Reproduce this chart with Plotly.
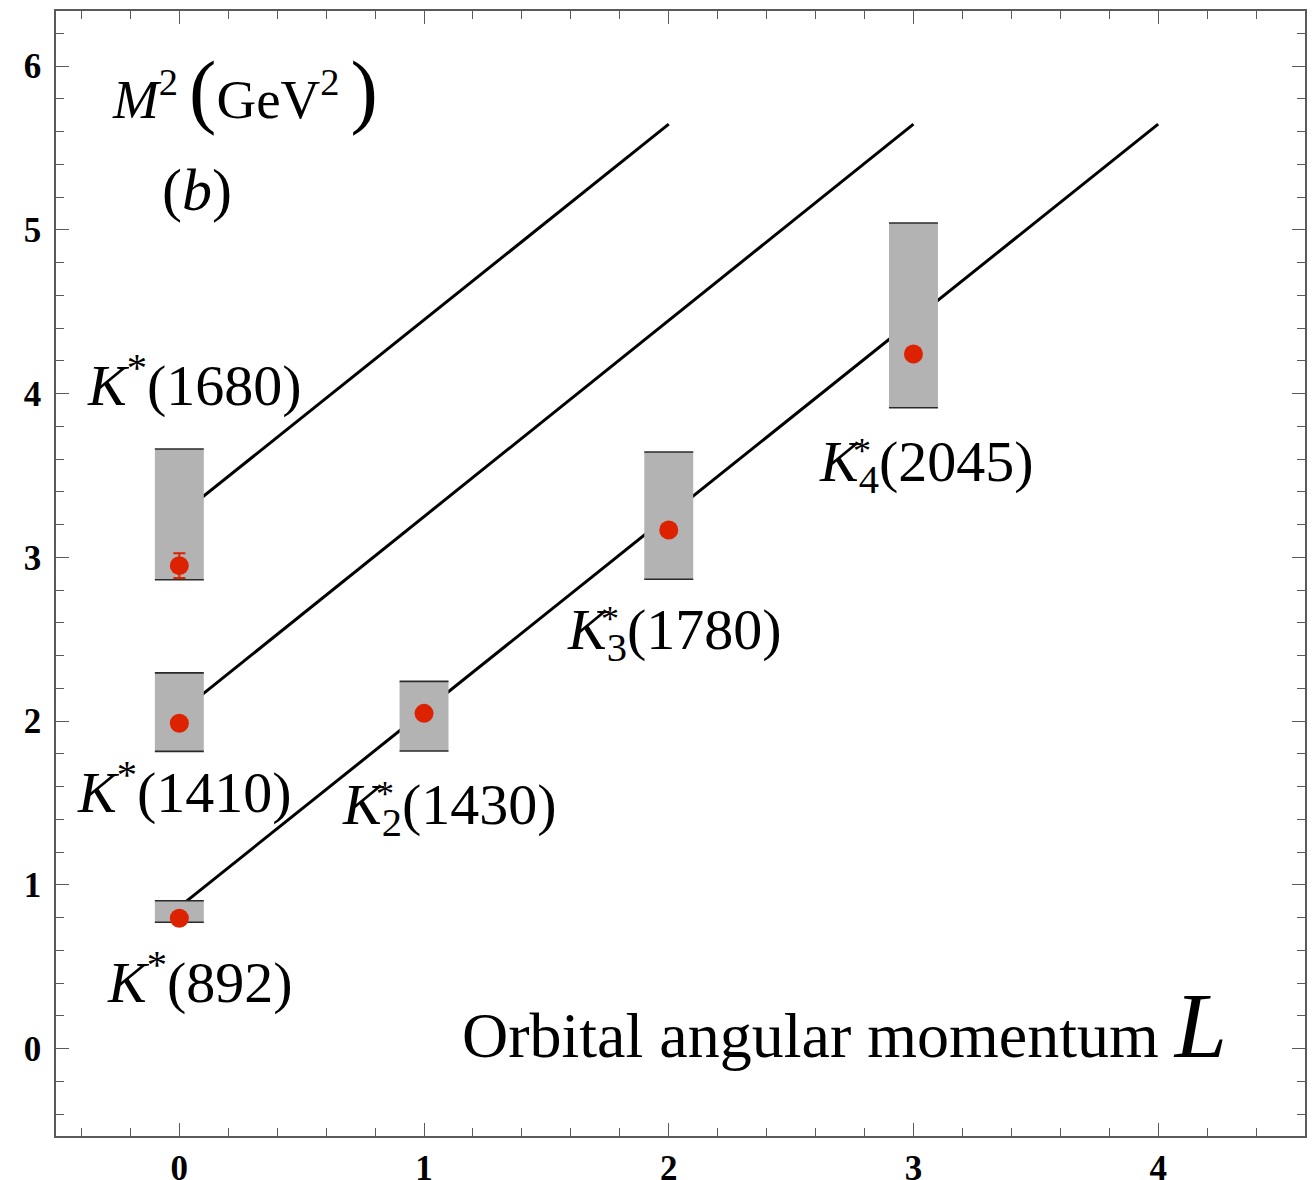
import plotly.graph_objects as go

# Regge trajectories of the K* family: M^2 (GeV^2) versus orbital angular momentum L
traj_L_start = [0, 0, 0]
traj_L_end = [4, 3, 2]
traj_m2_start = [0.865, 2.05, 3.255]
traj_m2_end = [5.645, 5.645, 5.645]

# Experimental states
state_names = ["K*(892)", "K*(1410)", "K*(1680)", "K2*(1430)", "K3*(1780)", "K4*(2045)"]
state_L = [0, 0, 0, 1, 2, 3]
state_m2 = [0.796, 1.986, 2.949, 2.047, 3.167, 4.241]
state_m2_err = [0.0, 0.0, 0.075, 0.0, 0.0, 0.0]
band_low = [0.771, 1.815, 2.863, 1.817, 2.866, 3.913]
band_high = [0.903, 2.294, 3.661, 2.242, 3.643, 5.041]
band_half_width = 0.1

label_texts = [
    "<i>K</i><sup>*</sup>(892)",
    "<i>K</i><sup>*</sup>(1410)",
    "<i>K</i><sup>*</sup>(1680)",
    "<i>K</i><sub>2</sub>(1430)",
    "<i>K</i><sub>3</sub>(1780)",
    "<i>K</i><sub>4</sub>(2045)",
]
# label anchor positions (left edge, vertical middle) and whether a stacked star is needed
label_pos = [(-0.302, 0.427), (-0.425, 1.587), (-0.384, 4.072),
             (0.658, 1.467), (1.577, 2.536), (2.606, 3.562)]
stacked_star = [False, False, False, True, True, True]

SERIF = "Liberation Serif"
LABEL_SIZE = 58
fig = go.Figure()

# trajectory lines
for xs, xe, ys, ye in zip(traj_L_start, traj_L_end, traj_m2_start, traj_m2_end):
    fig.add_trace(go.Scatter(x=[xs, xe], y=[ys, ye], mode="lines",
                             line=dict(color="black", width=3), hoverinfo="skip"))

# grey bands with dark top/bottom edges
for L, lo, hi in zip(state_L, band_low, band_high):
    x0, x1 = L - band_half_width, L + band_half_width
    fig.add_trace(go.Scatter(x=[x0, x1, x1, x0, x0], y=[lo, lo, hi, hi, lo],
                             mode="none", fill="toself", fillcolor="#b3b3b3",
                             hoverinfo="skip"))
    fig.add_trace(go.Scatter(x=[x0, x1, None, x0, x1], y=[lo, lo, None, hi, hi],
                             mode="lines", line=dict(color="#2a2a2a", width=1.6),
                             hoverinfo="skip"))

# measured masses
fig.add_trace(go.Scatter(
    x=state_L, y=state_m2, mode="markers", text=state_names,
    marker=dict(color="#dc2200", size=19),
    error_y=dict(type="data", array=state_m2_err, color="#dc2200",
                 thickness=2, width=6),
))

annotations = []
for txt, (ax, ay), star in zip(label_texts, label_pos, stacked_star):
    annotations.append(dict(x=ax, y=ay, xref="x", yref="y", text=txt,
                            showarrow=False, xanchor="left", yanchor="middle",
                            font=dict(family=SERIF, size=LABEL_SIZE, color="black")))
    if star:
        annotations.append(dict(x=ax, y=ay, xref="x", yref="y", text="*",
                                showarrow=False, xanchor="left", yanchor="middle",
                                xshift=34, yshift=14,
                                font=dict(family=SERIF, size=36, color="black")))

annotations += [
    dict(x=-0.282, y=5.85, xref="x", yref="y",
         text="<i>M</i><sup>2</sup>\u2009<span style='font-size:82px'>(</span>GeV<sup>2</sup>\u2009<span style='font-size:82px'>)</span>",
         showarrow=False, xanchor="left", yanchor="middle",
         font=dict(family=SERIF, size=55, color="black")),
    dict(x=-0.078, y=5.24, xref="x", yref="y", text="(<i>b</i>)",
         showarrow=False, xanchor="left", yanchor="middle",
         font=dict(family=SERIF, size=60, color="black")),
    dict(x=1.148, y=0.145, xref="x", yref="y",
         text="Orbital angular momentum <span style='font-size:94px'><i>L</i></span>",
         showarrow=False, xanchor="left", yanchor="middle",
         font=dict(family=SERIF, size=64, color="black")),
]

axis_common = dict(
    showgrid=False, zeroline=False, showline=True, linecolor="#5a5a5a", linewidth=1.5,
    mirror="allticks", ticks="inside", ticklen=13, tickwidth=1.2, tickcolor="#5a5a5a",
    dtick=1, tick0=0, automargin=False,
    tickfont=dict(family=SERIF, size=35, color="black", weight="bold"),
    minor=dict(dtick=0.2, tick0=0, ticks="inside", ticklen=8, tickwidth=1.2,
               tickcolor="#5a5a5a", showgrid=False),
)

fig.update_layout(
    width=1312, height=1180,
    margin=dict(l=56, r=7, t=11, b=44),
    paper_bgcolor="white", plot_bgcolor="white",
    showlegend=False,
    xaxis=dict(range=[-0.504, 4.6], ticklabelstandoff=0, **axis_common),
    yaxis=dict(range=[-0.534, 6.336], ticklabelstandoff=6, **axis_common),
    annotations=annotations,
)

fig.write_html("out.html")
